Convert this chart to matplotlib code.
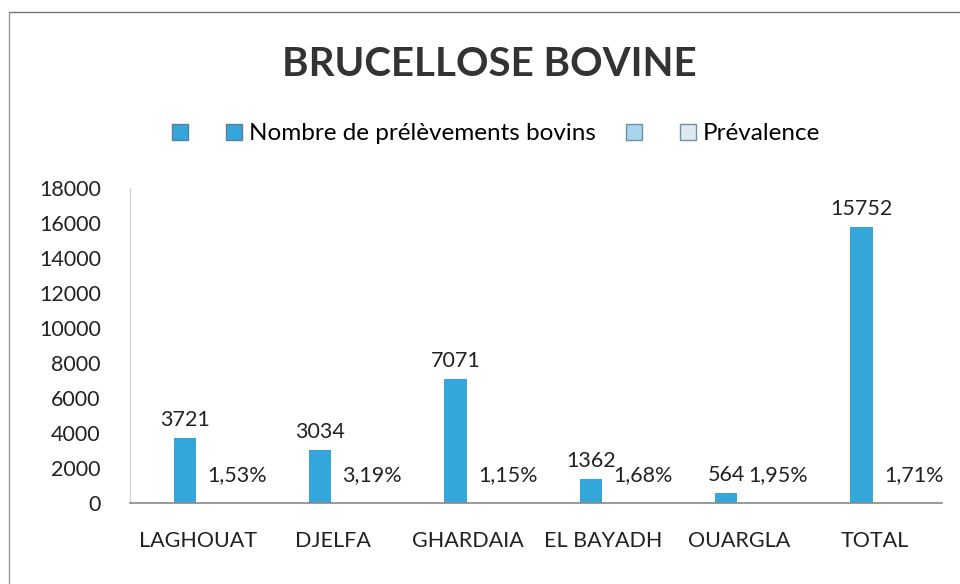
import numpy as np
import matplotlib
matplotlib.use("Agg")
import matplotlib.pyplot as plt
from matplotlib.patches import Patch
from matplotlib.lines import Line2D

plt.rcParams['font.family'] = ['Lato', 'DejaVu Sans']

# données
regions = ['LAGHOUAT', 'DJELFA', 'GHARDAIA', 'EL BAYADH', 'OUARGLA', 'TOTAL']
prelevements = [3721, 3034, 7071, 1362, 564, 15752]
prevalence = [1.53, 3.19, 1.15, 1.68, 1.95, 1.71]   # en %

bleu = '#34a6d9'
bleu_clair = '#a9d5ea'

fig = plt.figure(figsize=(9.6, 5.84), dpi=100)
ax = fig.add_axes([130/960, 1 - 503/584, (942-130)/960, (503-188)/584])

x = np.arange(len(regions))
w = 0.165
off = 0.096
b1 = ax.bar(x - off, prelevements, width=w, color=bleu)
# la prévalence est en fraction -> barres quasi invisibles sur cette échelle
b2 = ax.bar(x + off, np.array(prevalence) / 100, width=w, color=bleu_clair)

for xi, v in zip(x, prelevements):
    ax.annotate(str(v), (xi - off, v), xytext=(0, 6), textcoords='offset points',
                ha='center', va='bottom', fontsize=15.5, color='#222222')
for xi, p in zip(x, prevalence):
    ax.annotate(('%.2f%%' % p).replace('.', ','), (xi + off, 0), xytext=(19, 20),
                textcoords='offset points', ha='center', va='center',
                fontsize=15.5, color='#222222')

ax.set_xlim(-0.5, len(regions) - 0.5)
ax.set_ylim(0, 18000)
ax.set_yticks(range(0, 18001, 2000))
ax.set_xticks(x)
ax.set_xticklabels(regions)
ax.tick_params(axis='both', length=0, labelsize=15.5, colors='#222222')
ax.tick_params(axis='x', pad=20)
ax.tick_params(axis='y', pad=21)
for s in ['top', 'right']:
    ax.spines[s].set_visible(False)
ax.spines['left'].set_color('#cfcfcf')
ax.spines['left'].set_linewidth(0.8)
ax.spines['bottom'].set_color('#888888')
ax.spines['bottom'].set_linewidth(1.2)

fig.text(0.51, 1 - 65/584, 'BRUCELLOSE BOVINE', ha='center', va='center',
         fontsize=29, fontweight='bold', color='#333333')

handles = [Patch(facecolor=bleu, edgecolor='#5c7f99'),
           Patch(facecolor=bleu, edgecolor='#5c7f99'),
           Patch(facecolor=bleu_clair, edgecolor='#6f8fa6'),
           Patch(facecolor='#dfe9f0', edgecolor='#6f8fa6')]
labels = ['', 'Nombre de prélèvements bovins', '', 'Prévalence']
fig.legend(handles, labels, loc='center', bbox_to_anchor=(0.517, 1 - 134/584),
           ncol=4, frameon=False, fontsize=17.5, handlelength=0.65,
           handleheight=0.65, handletextpad=0.3, columnspacing=1.25)

# cadre du graphique
fig.add_artist(Line2D([9/960, 1], [1 - 12/584, 1 - 12/584], color='#777777', lw=1))
fig.add_artist(Line2D([9/960, 9/960], [0, 1 - 12/584], color='#999999', lw=1))

fig.savefig('out.png', dpi=100)
